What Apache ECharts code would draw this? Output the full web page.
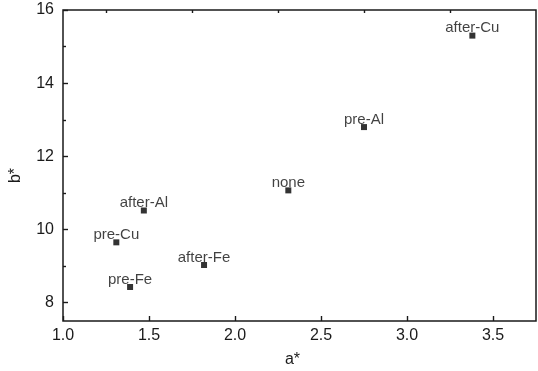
<!DOCTYPE html>
<html>
<head>
<meta charset="utf-8">
<script src="https://cdn.jsdelivr.net/npm/echarts@6/dist/echarts.min.js"></script>
<style>
  html, body { margin: 0; padding: 0; background: #fff; }
  #chart { width: 538px; height: 371px; }
</style>
</head>
<body>
<div id="chart"></div>
<script>
// sample names and their colour coordinates
const names = ['after-Cu', 'pre-Al', 'none', 'after-Al', 'pre-Cu', 'after-Fe', 'pre-Fe'];
const aStar = [3.38, 2.75, 2.31, 1.47, 1.31, 1.82, 1.39];
const bStar = [15.3, 12.8, 11.07, 10.52, 9.65, 9.03, 8.43];

const xMajor = [1.0, 1.5, 2.0, 2.5, 3.0, 3.5];
const xMinor = [1.25, 1.75, 2.25, 2.75, 3.25];
const yMajor = [8, 10, 12, 14, 16];
const yMinor = [9, 11, 13, 15];

const ink = '#1a1a1a';
const font = 'Liberation Sans, Arial, sans-serif';

const points = names.map((n, i) => [aStar[i], bStar[i], n]);

const chart = echarts.init(document.getElementById('chart'), null, { renderer: 'canvas' });

const baseX = {
  type: 'value', min: 1, max: 3.75,
  axisLine: { show: false },
  splitLine: { show: false }
};
const baseY = {
  type: 'value', min: 7.5, max: 16,
  axisLine: { show: false },
  splitLine: { show: false }
};

chart.setOption({
  animation: false,
  backgroundColor: '#fff',
  grid: {
    left: 63, right: 2, top: 10, bottom: 50,
    outerBoundsMode: 'none',
    show: true, borderColor: ink, borderWidth: 1.5, backgroundColor: 'transparent'
  },
  xAxis: [
    Object.assign({}, baseX, {
      name: 'a*', nameLocation: 'middle', nameGap: 31,
      nameTextStyle: { fontSize: 16, color: ink, fontFamily: font, padding: [0, 14, 0, 0] },
      axisTick: { inside: true, length: 5, lineStyle: { color: ink, width: 1.4 }, customValues: xMajor },
      axisLabel: { customValues: xMajor, margin: 7, fontSize: 16, color: ink, fontFamily: font,
        formatter: v => v.toFixed(1) }
    }),
    Object.assign({}, baseX, {
      axisTick: { inside: true, length: 3, lineStyle: { color: ink, width: 1.4 }, customValues: xMinor },
      axisLabel: { show: false }
    })
  ],
  yAxis: [
    Object.assign({}, baseY, {
      name: 'b*', nameLocation: 'middle', nameGap: 39,
      nameTextStyle: { fontSize: 16, color: ink, fontFamily: font, padding: [0, 20, 0, 0] },
      axisTick: { inside: true, length: 5, lineStyle: { color: ink, width: 1.4 }, customValues: yMajor },
      axisLabel: { customValues: yMajor, margin: 9, fontSize: 16, color: ink, fontFamily: font }
    }),
    Object.assign({}, baseY, {
      position: 'left',
      axisTick: { inside: true, length: 3, lineStyle: { color: ink, width: 1.4 }, customValues: yMinor },
      axisLabel: { show: false }
    })
  ],
  series: [{
    type: 'scatter',
    data: points,
    symbol: 'rect',
    symbolSize: 6,
    itemStyle: { color: '#000' },
    z: 3,
    label: {
      show: true,
      position: 'top',
      distance: -3,
      formatter: p => p.data[2],
      fontSize: 15,
      color: '#111',
      fontFamily: font
    }
  }]
});
</script>
</body>
</html>
